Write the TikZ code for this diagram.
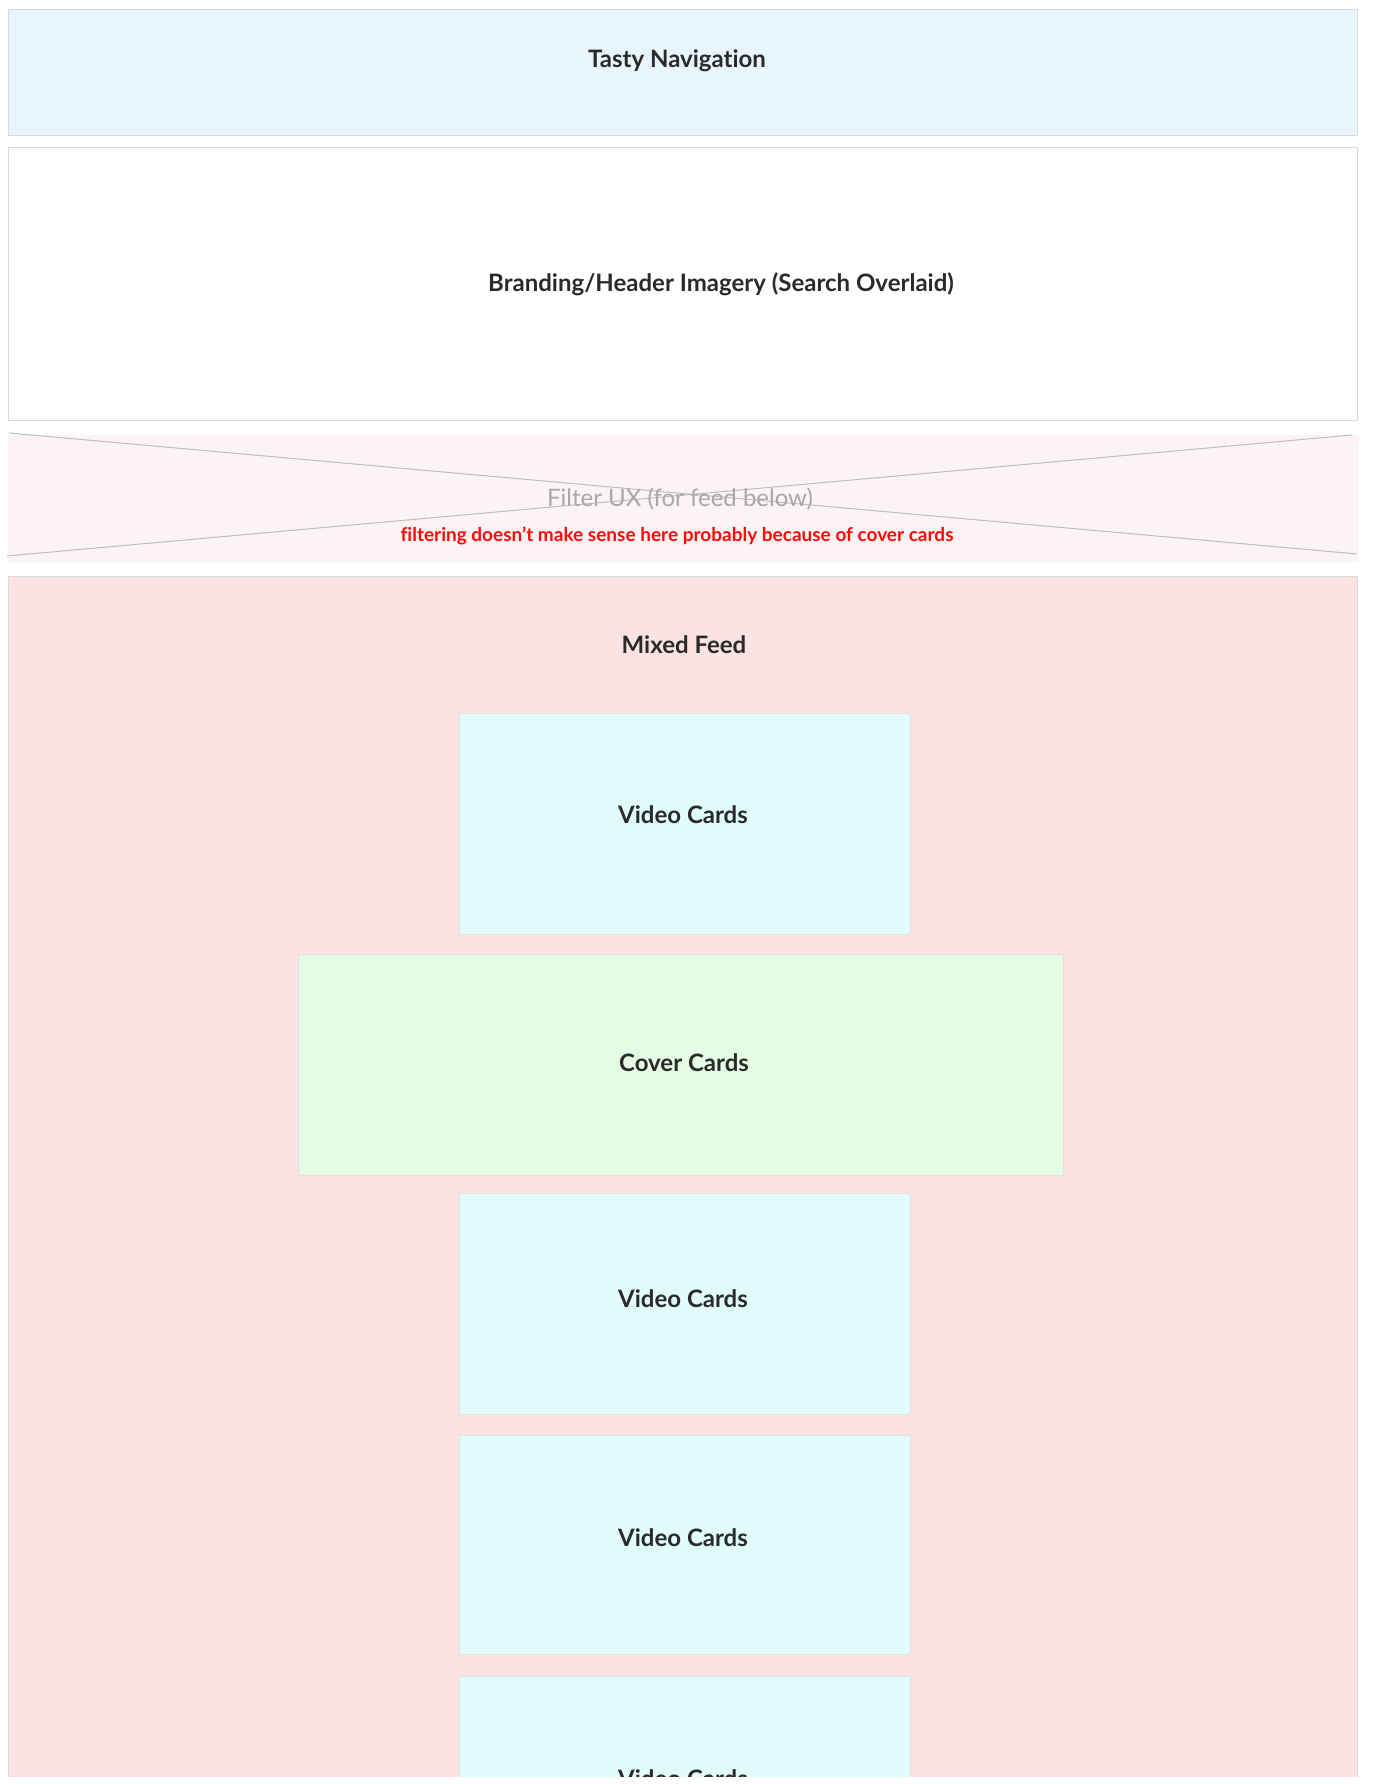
\documentclass[tikz,border=0pt]{standalone}
\usepackage{fontspec}
\setmainfont{Lato}[Ligatures=NoCommon]
\definecolor{navfill}{HTML}{E8F5FD}
\definecolor{filterfill}{HTML}{FCF4F4}
\definecolor{feedfill}{HTML}{FBE3E3}
\definecolor{videofill}{HTML}{E0FDFB}
\definecolor{coverfill}{HTML}{E4FCE3}
\definecolor{edgegray}{HTML}{D9D9D9}
\definecolor{crossgray}{HTML}{BDBDBD}
\definecolor{inkdark}{HTML}{2A2A2A}
\definecolor{ghostgray}{HTML}{A8A8A8}
\definecolor{warnred}{HTML}{FF0A0A}
\begin{document}
\begin{tikzpicture}[x=1pt,y=-1pt,
  panel/.style={draw=edgegray, line width=1.2pt, anchor=north west, inner sep=0pt},
  card/.style={panel, draw=edgegray!80},
  title/.style={font=\fontsize{24}{28}\selectfont\bfseries, text=inkdark, inner sep=0pt},
  ghost/.style={font=\fontsize{24}{28}\selectfont, text=ghostgray, inner sep=0pt},
  note/.style={font=\fontsize{19}{22}\selectfont\bfseries, text=warnred, inner sep=0pt}]
\useasboundingbox (0,0) rectangle (1374,1784);
\fill[white] (0,0) rectangle (1374,1784);

% navigation bar
\node[panel, fill=navfill, minimum width=1349pt, minimum height=126pt] (nav) at (8,9) {};
\node[title] (navtext) at (677,61) {Tasty Navigation};

% header imagery
\node[panel, fill=white, minimum width=1349pt, minimum height=273pt] (header) at (8,147) {};
\node[title] (headertext) at (721,284) {Branding/Header Imagery (Search Overlaid)};

% filter placeholder, crossed out
\node[panel, draw=none, fill=filterfill, minimum width=1351pt, minimum height=127pt] (filter) at (7,434) {};
\coordinate (ftl) at (9,433);
\coordinate (fbr) at (1357,554);
\coordinate (fbl) at (7,556);
\coordinate (ftr) at (1352,435);
\draw[crossgray, line width=1pt] (ftl) -- (fbr);
\draw[crossgray, line width=1pt] (fbl) -- (ftr);
\node[ghost] (filtertext) at (680,499) {Filter UX (for feed below)};
\node[note] (filternote) at (677,536) {filtering doesn’t make sense here probably because of cover cards};

\begin{scope}
\clip (0,0) rectangle (1374,1776);
% mixed feed container
\node[panel, fill=feedfill, minimum width=1349pt, minimum height=1260pt] (feed) at (8,576) {};
\node[title] (feedtext) at (684,645) {Mixed Feed};

% feed cards
\node[card, fill=videofill, minimum width=451pt, minimum height=221pt] (video1) at (459,713) {};
\node[title] (video1text) at (683,815) {Video Cards};

\node[card, fill=coverfill, minimum width=765pt, minimum height=221pt] (cover) at (298,954) {};
\node[title] (covertext) at (684,1063) {Cover Cards};

\node[card, fill=videofill, minimum width=451pt, minimum height=221pt] (video2) at (459,1193) {};
\node[title] (video2text) at (683,1299) {Video Cards};

\node[card, fill=videofill, minimum width=451pt, minimum height=219pt] (video3) at (459,1435) {};
\node[title] (video3text) at (683,1538) {Video Cards};

\node[card, fill=videofill, minimum width=451pt, minimum height=221pt] (video4) at (459,1676) {};
\node[title] (video4text) at (683,1779) {Video Cards};
\end{scope}
\end{tikzpicture}
\end{document}
